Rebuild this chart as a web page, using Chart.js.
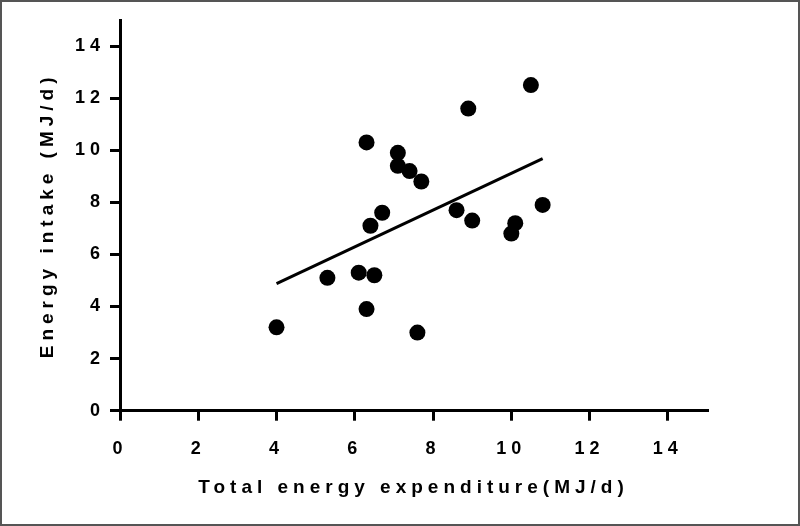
<!DOCTYPE html>
<html>
<head>
<meta charset="utf-8">
<script src="https://cdn.jsdelivr.net/npm/chart.js@4/dist/chart.umd.min.js"></script>
<style>
  html, body { margin: 0; padding: 0; background: #fff; }
  #wrap { position: relative; width: 800px; height: 526px; }
  #frame { position: absolute; left: 0; top: 0; width: 800px; height: 526px; box-sizing: border-box; border: 2px solid #555; pointer-events: none; }
  canvas { display: block; }
</style>
</head>
<body>
<div id="wrap">
  <canvas id="c" width="800" height="526"></canvas>
  <div id="frame"></div>
</div>
<script>
// Total energy expenditure (MJ/d)
const expenditure = [4.0, 5.3, 6.1, 6.5, 6.3, 6.3, 6.4, 6.7, 7.1, 7.1, 7.4, 7.7, 7.6, 8.6, 8.9, 9.0, 10.0, 10.1, 10.5, 10.8];
// Energy intake (MJ/d)
const intake = [3.2, 5.1, 5.3, 5.2, 3.9, 10.3, 7.1, 7.6, 9.9, 9.4, 9.2, 8.8, 3.0, 7.7, 11.6, 7.3, 6.8, 7.2, 12.5, 7.9];
// Regression line end points
const fitX = [4.0, 10.8];
const fitY = [4.88, 9.68];
// Tick labels
const xTicks = [0, 2, 4, 6, 8, 10, 12, 14];
const yTicks = [0, 2, 4, 6, 8, 10, 12, 14];
const xTitle = 'Total energy expenditure(MJ/d)';
const yTitle = 'Energy intake (MJ/d)';

const points = expenditure.map((x, i) => ({ x: x, y: intake[i] }));
const fitLine = fitX.map((x, i) => ({ x: x, y: fitY[i] }));

const FONT = '"Liberation Sans", Arial, sans-serif';

const spacingPlugin = {
  id: 'spacing',
  beforeDraw(chart) { chart.ctx.letterSpacing = '5px'; }
};

new Chart(document.getElementById('c'), {
  type: 'scatter',
  data: {
    datasets: [
      {
        type: 'line',
        data: fitLine,
        borderColor: '#000',
        borderWidth: 3,
        pointRadius: 0,
        fill: false,
        order: 2
      },
      {
        data: points,
        backgroundColor: '#000',
        borderColor: '#000',
        borderWidth: 0,
        pointRadius: 8,
        order: 1
      }
    ]
  },
  options: {
    responsive: false,
    animation: false,
    layout: { padding: { left: 10, right: 93, top: 20, bottom: 10 } },
    plugins: { legend: { display: false }, tooltip: { enabled: false } },
    scales: {
      x: {
        type: 'linear',
        min: 0, max: 15,
        afterBuildTicks(scale) { scale.ticks = xTicks.map(v => ({ value: v })); },
        afterFit(scale) { scale.height = 526 - 10 - 410.7; },
        border: { display: true, color: '#000', width: 3 },
        grid: { display: true, drawOnChartArea: false, drawTicks: true, tickLength: 10, color: '#000', lineWidth: 3 },
        ticks: { color: '#000', font: { family: FONT, size: 18, weight: 'bold' }, padding: 18, maxRotation: 0 },
        title: { display: true, text: xTitle, color: '#000', font: { family: FONT, size: 19, weight: 'bold' }, padding: { top: 0, bottom: 17 } }
      },
      y: {
        type: 'linear',
        min: 0, max: 15,
        afterBuildTicks(scale) { scale.ticks = yTicks.map(v => ({ value: v })); },
        afterFit(scale) { scale.width = 120 - 10; },
        border: { display: true, color: '#000', width: 3 },
        grid: { display: true, drawOnChartArea: false, drawTicks: true, tickLength: 10, color: '#000', lineWidth: 3 },
        ticks: { color: '#000', font: { family: FONT, size: 18, weight: 'bold' }, padding: 5 },
        title: { display: true, text: yTitle, color: '#000', font: { family: FONT, size: 19, weight: 'bold' }, padding: { top: 26, bottom: 0 } }
      }
    }
  },
  plugins: [spacingPlugin]
});
</script>
</body>
</html>
